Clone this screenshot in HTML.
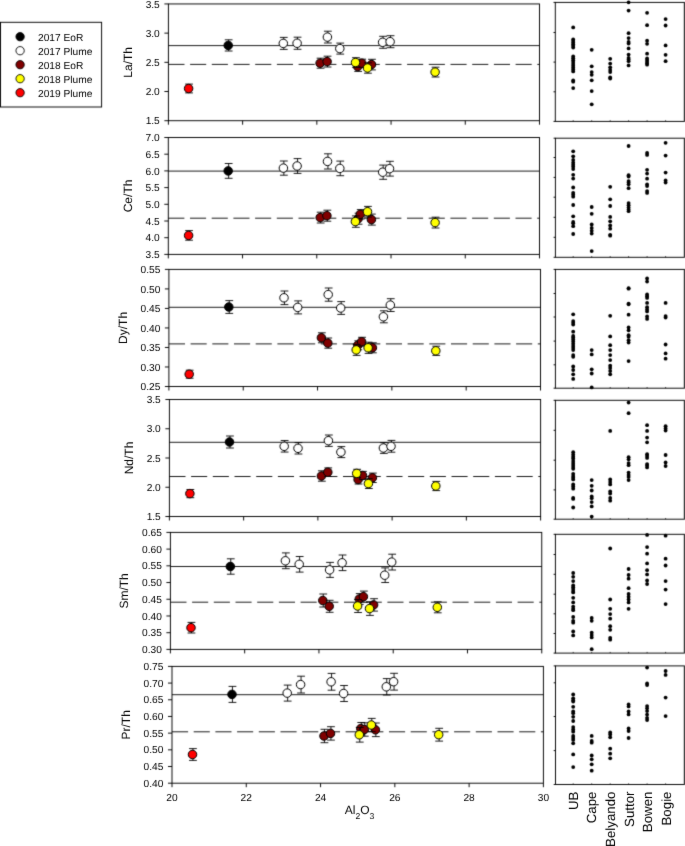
<!DOCTYPE html>
<html><head><meta charset="utf-8"><style>
html,body{margin:0;padding:0;background:#fff;}
svg{display:block;will-change:transform;}
text{font-family:"Liberation Sans",sans-serif;fill:#000;text-rendering:geometricPrecision;}
</style></head><body>
<svg width="685" height="846" viewBox="0 0 685 846">
<defs><filter id="bl" x="0" y="0" width="685" height="846" filterUnits="userSpaceOnUse" color-interpolation-filters="sRGB"><feConvolveMatrix order="3" kernelMatrix="0.0169 0.0962 0.0169 0.0962 0.5476 0.0962 0.0169 0.0962 0.0169" edgeMode="duplicate" preserveAlpha="true"/></filter><filter id="bt" x="0" y="0" width="685" height="846" filterUnits="userSpaceOnUse" color-interpolation-filters="sRGB"><feConvolveMatrix order="3" kernelMatrix="0.0036 0.0528 0.0036 0.0528 0.7744 0.0528 0.0036 0.0528 0.0036" edgeMode="none" preserveAlpha="false"/></filter></defs>
<g filter="url(#bl)">
<rect width="685" height="846" fill="#fff"/>
<line x1="168.4" y1="45.6" x2="539.5" y2="45.6" stroke="#000" stroke-width="0.9"/>
<line x1="168.4" y1="64.4" x2="539.5" y2="64.4" stroke="#000" stroke-width="0.9" stroke-dasharray="16.1 5.6"/>
<rect x="168.4" y="3.95" width="371.1" height="116.75" fill="none" stroke="#000" stroke-width="0.95"/>
<line x1="164.4" y1="120.7" x2="168.4" y2="120.7" stroke="#000" stroke-width="0.95"/>
<line x1="164.4" y1="91.51" x2="168.4" y2="91.51" stroke="#000" stroke-width="0.95"/>
<line x1="164.4" y1="62.33" x2="168.4" y2="62.33" stroke="#000" stroke-width="0.95"/>
<line x1="164.4" y1="33.14" x2="168.4" y2="33.14" stroke="#000" stroke-width="0.95"/>
<line x1="164.4" y1="3.95" x2="168.4" y2="3.95" stroke="#000" stroke-width="0.95"/>
<line x1="168.4" y1="120.7" x2="168.4" y2="124.7" stroke="#000" stroke-width="0.95"/>
<line x1="242.62" y1="120.7" x2="242.62" y2="124.7" stroke="#000" stroke-width="0.95"/>
<line x1="316.84" y1="120.7" x2="316.84" y2="124.7" stroke="#000" stroke-width="0.95"/>
<line x1="391.06" y1="120.7" x2="391.06" y2="124.7" stroke="#000" stroke-width="0.95"/>
<line x1="465.28" y1="120.7" x2="465.28" y2="124.7" stroke="#000" stroke-width="0.95"/>
<line x1="539.5" y1="120.7" x2="539.5" y2="124.7" stroke="#000" stroke-width="0.95"/>
<path d="M228.65 39.8V51M224.75 39.8H232.55M224.75 51H232.55" stroke="#000" stroke-width="0.9" fill="none"/>
<circle cx="228.2" cy="45.4" r="4.25" fill="#000000" stroke="#000" stroke-width="1"/>
<path d="M283.75 37.4V49.4M279.85 37.4H287.65M279.85 49.4H287.65" stroke="#000" stroke-width="0.9" fill="none"/>
<circle cx="283.3" cy="43.4" r="4.25" fill="#ffffff" stroke="#000" stroke-width="1"/>
<path d="M297.55 37.2V49.3M293.65 37.2H301.45M293.65 49.3H301.45" stroke="#000" stroke-width="0.9" fill="none"/>
<circle cx="297.1" cy="43.25" r="4.25" fill="#ffffff" stroke="#000" stroke-width="1"/>
<path d="M327.85 31.2V43M323.95 31.2H331.75M323.95 43H331.75" stroke="#000" stroke-width="0.9" fill="none"/>
<circle cx="327.4" cy="37.1" r="4.25" fill="#ffffff" stroke="#000" stroke-width="1"/>
<path d="M340.25 43.1V54.1M336.35 43.1H344.15M336.35 54.1H344.15" stroke="#000" stroke-width="0.9" fill="none"/>
<circle cx="339.8" cy="48.6" r="4.25" fill="#ffffff" stroke="#000" stroke-width="1"/>
<path d="M383.05 36.3V48.3M379.15 36.3H386.95M379.15 48.3H386.95" stroke="#000" stroke-width="0.9" fill="none"/>
<circle cx="382.6" cy="42.3" r="4.25" fill="#ffffff" stroke="#000" stroke-width="1"/>
<path d="M390.55 35.7V47.7M386.65 35.7H394.45M386.65 47.7H394.45" stroke="#000" stroke-width="0.9" fill="none"/>
<circle cx="390.1" cy="41.7" r="4.25" fill="#ffffff" stroke="#000" stroke-width="1"/>
<path d="M320.55 58.2V68.2M316.65 58.2H324.45M316.65 68.2H324.45" stroke="#000" stroke-width="0.9" fill="none"/>
<circle cx="320.1" cy="63.2" r="4.25" fill="#800000" stroke="#000" stroke-width="1"/>
<path d="M327.55 56.2V67M323.65 56.2H331.45M323.65 67H331.45" stroke="#000" stroke-width="0.9" fill="none"/>
<circle cx="327.1" cy="61.6" r="4.25" fill="#800000" stroke="#000" stroke-width="1"/>
<path d="M358.15 61.8V71.4M354.25 61.8H362.05M354.25 71.4H362.05" stroke="#000" stroke-width="0.9" fill="none"/>
<circle cx="357.7" cy="66.6" r="4.25" fill="#800000" stroke="#000" stroke-width="1"/>
<path d="M362.25 59.2V67.2M358.35 59.2H366.15M358.35 67.2H366.15" stroke="#000" stroke-width="0.9" fill="none"/>
<circle cx="361.8" cy="63.2" r="4.25" fill="#800000" stroke="#000" stroke-width="1"/>
<path d="M371.95 59.3V69.9M368.05 59.3H375.85M368.05 69.9H375.85" stroke="#000" stroke-width="0.9" fill="none"/>
<circle cx="371.5" cy="64.6" r="4.25" fill="#800000" stroke="#000" stroke-width="1"/>
<path d="M355.95 57.7V67.3M352.05 57.7H359.85M352.05 67.3H359.85" stroke="#000" stroke-width="0.9" fill="none"/>
<circle cx="355.5" cy="62.5" r="4.25" fill="#ffff00" stroke="#000" stroke-width="1"/>
<path d="M367.95 62.8V73.2M364.05 62.8H371.85M364.05 73.2H371.85" stroke="#000" stroke-width="0.9" fill="none"/>
<circle cx="367.5" cy="68" r="4.25" fill="#ffff00" stroke="#000" stroke-width="1"/>
<path d="M435.55 67.2V77M431.65 67.2H439.45M431.65 77H439.45" stroke="#000" stroke-width="0.9" fill="none"/>
<circle cx="435.1" cy="72.1" r="4.25" fill="#ffff00" stroke="#000" stroke-width="1"/>
<path d="M189.05 84.1V92.9M185.15 84.1H192.95M185.15 92.9H192.95" stroke="#000" stroke-width="0.9" fill="none"/>
<circle cx="188.6" cy="88.5" r="4.25" fill="#ff0000" stroke="#000" stroke-width="1"/>
<line x1="168.3" y1="171.1" x2="539.5" y2="171.1" stroke="#000" stroke-width="0.9"/>
<line x1="168.3" y1="218.2" x2="539.5" y2="218.2" stroke="#000" stroke-width="0.9" stroke-dasharray="16.1 5.6"/>
<rect x="168.3" y="137.5" width="371.2" height="116.9" fill="none" stroke="#000" stroke-width="0.95"/>
<line x1="164.3" y1="254.4" x2="168.3" y2="254.4" stroke="#000" stroke-width="0.95"/>
<line x1="164.3" y1="237.7" x2="168.3" y2="237.7" stroke="#000" stroke-width="0.95"/>
<line x1="164.3" y1="221" x2="168.3" y2="221" stroke="#000" stroke-width="0.95"/>
<line x1="164.3" y1="204.3" x2="168.3" y2="204.3" stroke="#000" stroke-width="0.95"/>
<line x1="164.3" y1="187.6" x2="168.3" y2="187.6" stroke="#000" stroke-width="0.95"/>
<line x1="164.3" y1="170.9" x2="168.3" y2="170.9" stroke="#000" stroke-width="0.95"/>
<line x1="164.3" y1="154.2" x2="168.3" y2="154.2" stroke="#000" stroke-width="0.95"/>
<line x1="164.3" y1="137.5" x2="168.3" y2="137.5" stroke="#000" stroke-width="0.95"/>
<line x1="168.3" y1="254.4" x2="168.3" y2="258.4" stroke="#000" stroke-width="0.95"/>
<line x1="242.54" y1="254.4" x2="242.54" y2="258.4" stroke="#000" stroke-width="0.95"/>
<line x1="316.78" y1="254.4" x2="316.78" y2="258.4" stroke="#000" stroke-width="0.95"/>
<line x1="391.02" y1="254.4" x2="391.02" y2="258.4" stroke="#000" stroke-width="0.95"/>
<line x1="465.26" y1="254.4" x2="465.26" y2="258.4" stroke="#000" stroke-width="0.95"/>
<line x1="539.5" y1="254.4" x2="539.5" y2="258.4" stroke="#000" stroke-width="0.95"/>
<path d="M228.65 163.5V178.3M224.75 163.5H232.55M224.75 178.3H232.55" stroke="#000" stroke-width="0.9" fill="none"/>
<circle cx="228.2" cy="170.9" r="4.25" fill="#000000" stroke="#000" stroke-width="1"/>
<path d="M283.85 161V175.2M279.95 161H287.75M279.95 175.2H287.75" stroke="#000" stroke-width="0.9" fill="none"/>
<circle cx="283.4" cy="168.1" r="4.25" fill="#ffffff" stroke="#000" stroke-width="1"/>
<path d="M297.55 158.6V173.4M293.65 158.6H301.45M293.65 173.4H301.45" stroke="#000" stroke-width="0.9" fill="none"/>
<circle cx="297.1" cy="166" r="4.25" fill="#ffffff" stroke="#000" stroke-width="1"/>
<path d="M327.95 153.8V169M324.05 153.8H331.85M324.05 169H331.85" stroke="#000" stroke-width="0.9" fill="none"/>
<circle cx="327.5" cy="161.4" r="4.25" fill="#ffffff" stroke="#000" stroke-width="1"/>
<path d="M340.25 161.1V175.7M336.35 161.1H344.15M336.35 175.7H344.15" stroke="#000" stroke-width="0.9" fill="none"/>
<circle cx="339.8" cy="168.4" r="4.25" fill="#ffffff" stroke="#000" stroke-width="1"/>
<path d="M383.15 165.1V179.3M379.25 165.1H387.05M379.25 179.3H387.05" stroke="#000" stroke-width="0.9" fill="none"/>
<circle cx="382.7" cy="172.2" r="4.25" fill="#ffffff" stroke="#000" stroke-width="1"/>
<path d="M389.95 161.3V176.1M386.05 161.3H393.85M386.05 176.1H393.85" stroke="#000" stroke-width="0.9" fill="none"/>
<circle cx="389.5" cy="168.7" r="4.25" fill="#ffffff" stroke="#000" stroke-width="1"/>
<path d="M320.65 212.2V223M316.75 212.2H324.55M316.75 223H324.55" stroke="#000" stroke-width="0.9" fill="none"/>
<circle cx="320.2" cy="217.6" r="4.25" fill="#800000" stroke="#000" stroke-width="1"/>
<path d="M327.35 210.2V221.2M323.45 210.2H331.25M323.45 221.2H331.25" stroke="#000" stroke-width="0.9" fill="none"/>
<circle cx="326.9" cy="215.7" r="4.25" fill="#800000" stroke="#000" stroke-width="1"/>
<path d="M358.55 213.2V224.2M354.65 213.2H362.45M354.65 224.2H362.45" stroke="#000" stroke-width="0.9" fill="none"/>
<circle cx="358.1" cy="218.7" r="4.25" fill="#800000" stroke="#000" stroke-width="1"/>
<path d="M360.75 209.6V219M356.85 209.6H364.65M356.85 219H364.65" stroke="#000" stroke-width="0.9" fill="none"/>
<circle cx="360.3" cy="214.3" r="4.25" fill="#800000" stroke="#000" stroke-width="1"/>
<path d="M371.85 214.1V225.1M367.95 214.1H375.75M367.95 225.1H375.75" stroke="#000" stroke-width="0.9" fill="none"/>
<circle cx="371.4" cy="219.6" r="4.25" fill="#800000" stroke="#000" stroke-width="1"/>
<path d="M355.85 215.9V227.3M351.95 215.9H359.75M351.95 227.3H359.75" stroke="#000" stroke-width="0.9" fill="none"/>
<circle cx="355.4" cy="221.6" r="4.25" fill="#ffff00" stroke="#000" stroke-width="1"/>
<path d="M367.95 206.4V217M364.05 206.4H371.85M364.05 217H371.85" stroke="#000" stroke-width="0.9" fill="none"/>
<circle cx="367.5" cy="211.7" r="4.25" fill="#ffff00" stroke="#000" stroke-width="1"/>
<path d="M435.55 217.2V228M431.65 217.2H439.45M431.65 228H439.45" stroke="#000" stroke-width="0.9" fill="none"/>
<circle cx="435.1" cy="222.6" r="4.25" fill="#ffff00" stroke="#000" stroke-width="1"/>
<path d="M189.05 230.6V240.2M185.15 230.6H192.95M185.15 240.2H192.95" stroke="#000" stroke-width="0.9" fill="none"/>
<circle cx="188.6" cy="235.4" r="4.25" fill="#ff0000" stroke="#000" stroke-width="1"/>
<line x1="168.9" y1="307.3" x2="540.5" y2="307.3" stroke="#000" stroke-width="0.9"/>
<line x1="168.9" y1="343.9" x2="540.5" y2="343.9" stroke="#000" stroke-width="0.9" stroke-dasharray="16.1 5.6"/>
<rect x="168.9" y="269.4" width="371.6" height="117.1" fill="none" stroke="#000" stroke-width="0.95"/>
<line x1="164.9" y1="386.5" x2="168.9" y2="386.5" stroke="#000" stroke-width="0.95"/>
<line x1="164.9" y1="366.98" x2="168.9" y2="366.98" stroke="#000" stroke-width="0.95"/>
<line x1="164.9" y1="347.47" x2="168.9" y2="347.47" stroke="#000" stroke-width="0.95"/>
<line x1="164.9" y1="327.95" x2="168.9" y2="327.95" stroke="#000" stroke-width="0.95"/>
<line x1="164.9" y1="308.43" x2="168.9" y2="308.43" stroke="#000" stroke-width="0.95"/>
<line x1="164.9" y1="288.92" x2="168.9" y2="288.92" stroke="#000" stroke-width="0.95"/>
<line x1="164.9" y1="269.4" x2="168.9" y2="269.4" stroke="#000" stroke-width="0.95"/>
<line x1="168.9" y1="386.5" x2="168.9" y2="390.5" stroke="#000" stroke-width="0.95"/>
<line x1="243.22" y1="386.5" x2="243.22" y2="390.5" stroke="#000" stroke-width="0.95"/>
<line x1="317.54" y1="386.5" x2="317.54" y2="390.5" stroke="#000" stroke-width="0.95"/>
<line x1="391.86" y1="386.5" x2="391.86" y2="390.5" stroke="#000" stroke-width="0.95"/>
<line x1="466.18" y1="386.5" x2="466.18" y2="390.5" stroke="#000" stroke-width="0.95"/>
<line x1="540.5" y1="386.5" x2="540.5" y2="390.5" stroke="#000" stroke-width="0.95"/>
<path d="M229.25 300.6V313.4M225.35 300.6H233.15M225.35 313.4H233.15" stroke="#000" stroke-width="0.9" fill="none"/>
<circle cx="228.8" cy="307" r="4.25" fill="#000000" stroke="#000" stroke-width="1"/>
<path d="M284.45 291V304.6M280.55 291H288.35M280.55 304.6H288.35" stroke="#000" stroke-width="0.9" fill="none"/>
<circle cx="284" cy="297.8" r="4.25" fill="#ffffff" stroke="#000" stroke-width="1"/>
<path d="M298.15 300.9V313.9M294.25 300.9H302.05M294.25 313.9H302.05" stroke="#000" stroke-width="0.9" fill="none"/>
<circle cx="297.7" cy="307.4" r="4.25" fill="#ffffff" stroke="#000" stroke-width="1"/>
<path d="M328.65 288V301.2M324.75 288H332.55M324.75 301.2H332.55" stroke="#000" stroke-width="0.9" fill="none"/>
<circle cx="328.2" cy="294.6" r="4.25" fill="#ffffff" stroke="#000" stroke-width="1"/>
<path d="M341.15 301.6V314.4M337.25 301.6H345.05M337.25 314.4H345.05" stroke="#000" stroke-width="0.9" fill="none"/>
<circle cx="340.7" cy="308" r="4.25" fill="#ffffff" stroke="#000" stroke-width="1"/>
<path d="M383.85 310.8V322.8M379.95 310.8H387.75M379.95 322.8H387.75" stroke="#000" stroke-width="0.9" fill="none"/>
<circle cx="383.4" cy="316.8" r="4.25" fill="#ffffff" stroke="#000" stroke-width="1"/>
<path d="M390.75 298.7V311.5M386.85 298.7H394.65M386.85 311.5H394.65" stroke="#000" stroke-width="0.9" fill="none"/>
<circle cx="390.3" cy="305.1" r="4.25" fill="#ffffff" stroke="#000" stroke-width="1"/>
<path d="M321.85 332.8V342.8M317.95 332.8H325.75M317.95 342.8H325.75" stroke="#000" stroke-width="0.9" fill="none"/>
<circle cx="321.4" cy="337.8" r="4.25" fill="#800000" stroke="#000" stroke-width="1"/>
<path d="M328.25 338V348.2M324.35 338H332.15M324.35 348.2H332.15" stroke="#000" stroke-width="0.9" fill="none"/>
<circle cx="327.8" cy="343.1" r="4.25" fill="#800000" stroke="#000" stroke-width="1"/>
<path d="M358.25 340.8V349.8M354.35 340.8H362.15M354.35 349.8H362.15" stroke="#000" stroke-width="0.9" fill="none"/>
<circle cx="357.8" cy="345.3" r="4.25" fill="#800000" stroke="#000" stroke-width="1"/>
<path d="M362.05 337.3V346.1M358.15 337.3H365.95M358.15 346.1H365.95" stroke="#000" stroke-width="0.9" fill="none"/>
<circle cx="361.6" cy="341.7" r="4.25" fill="#800000" stroke="#000" stroke-width="1"/>
<path d="M372.85 342.8V352.8M368.95 342.8H376.75M368.95 352.8H376.75" stroke="#000" stroke-width="0.9" fill="none"/>
<circle cx="372.4" cy="347.8" r="4.25" fill="#800000" stroke="#000" stroke-width="1"/>
<path d="M356.65 344.4V355.4M352.75 344.4H360.55M352.75 355.4H360.55" stroke="#000" stroke-width="0.9" fill="none"/>
<circle cx="356.2" cy="349.9" r="4.25" fill="#ffff00" stroke="#000" stroke-width="1"/>
<path d="M368.55 342.2V353.4M364.65 342.2H372.45M364.65 353.4H372.45" stroke="#000" stroke-width="0.9" fill="none"/>
<circle cx="368.1" cy="347.8" r="4.25" fill="#ffff00" stroke="#000" stroke-width="1"/>
<path d="M436.25 346.2V355.4M432.35 346.2H440.15M432.35 355.4H440.15" stroke="#000" stroke-width="0.9" fill="none"/>
<circle cx="435.8" cy="350.8" r="4.25" fill="#ffff00" stroke="#000" stroke-width="1"/>
<path d="M189.65 370.2V378.2M185.75 370.2H193.55M185.75 378.2H193.55" stroke="#000" stroke-width="0.9" fill="none"/>
<circle cx="189.2" cy="374.2" r="4.25" fill="#ff0000" stroke="#000" stroke-width="1"/>
<line x1="169.4" y1="442.3" x2="540.6" y2="442.3" stroke="#000" stroke-width="0.9"/>
<line x1="169.4" y1="476.5" x2="540.6" y2="476.5" stroke="#000" stroke-width="0.9" stroke-dasharray="16.1 5.6"/>
<rect x="169.4" y="399.5" width="371.2" height="117" fill="none" stroke="#000" stroke-width="0.95"/>
<line x1="165.4" y1="516.5" x2="169.4" y2="516.5" stroke="#000" stroke-width="0.95"/>
<line x1="165.4" y1="487.25" x2="169.4" y2="487.25" stroke="#000" stroke-width="0.95"/>
<line x1="165.4" y1="458" x2="169.4" y2="458" stroke="#000" stroke-width="0.95"/>
<line x1="165.4" y1="428.75" x2="169.4" y2="428.75" stroke="#000" stroke-width="0.95"/>
<line x1="165.4" y1="399.5" x2="169.4" y2="399.5" stroke="#000" stroke-width="0.95"/>
<line x1="169.4" y1="516.5" x2="169.4" y2="520.5" stroke="#000" stroke-width="0.95"/>
<line x1="243.64" y1="516.5" x2="243.64" y2="520.5" stroke="#000" stroke-width="0.95"/>
<line x1="317.88" y1="516.5" x2="317.88" y2="520.5" stroke="#000" stroke-width="0.95"/>
<line x1="392.12" y1="516.5" x2="392.12" y2="520.5" stroke="#000" stroke-width="0.95"/>
<line x1="466.36" y1="516.5" x2="466.36" y2="520.5" stroke="#000" stroke-width="0.95"/>
<line x1="540.6" y1="516.5" x2="540.6" y2="520.5" stroke="#000" stroke-width="0.95"/>
<path d="M229.95 436V448M226.05 436H233.85M226.05 448H233.85" stroke="#000" stroke-width="0.9" fill="none"/>
<circle cx="229.5" cy="442" r="4.25" fill="#000000" stroke="#000" stroke-width="1"/>
<path d="M284.65 440.55V452.05M280.75 440.55H288.55M280.75 452.05H288.55" stroke="#000" stroke-width="0.9" fill="none"/>
<circle cx="284.2" cy="446.3" r="4.25" fill="#ffffff" stroke="#000" stroke-width="1"/>
<path d="M298.45 442.6V454M294.55 442.6H302.35M294.55 454H302.35" stroke="#000" stroke-width="0.9" fill="none"/>
<circle cx="298" cy="448.3" r="4.25" fill="#ffffff" stroke="#000" stroke-width="1"/>
<path d="M328.85 435V446.4M324.95 435H332.75M324.95 446.4H332.75" stroke="#000" stroke-width="0.9" fill="none"/>
<circle cx="328.4" cy="440.7" r="4.25" fill="#ffffff" stroke="#000" stroke-width="1"/>
<path d="M341.35 446.6V457.6M337.45 446.6H345.25M337.45 457.6H345.25" stroke="#000" stroke-width="0.9" fill="none"/>
<circle cx="340.9" cy="452.1" r="4.25" fill="#ffffff" stroke="#000" stroke-width="1"/>
<path d="M383.85 442.6V453.4M379.95 442.6H387.75M379.95 453.4H387.75" stroke="#000" stroke-width="0.9" fill="none"/>
<circle cx="383.4" cy="448" r="4.25" fill="#ffffff" stroke="#000" stroke-width="1"/>
<path d="M391.45 440.4V452.2M387.55 440.4H395.35M387.55 452.2H395.35" stroke="#000" stroke-width="0.9" fill="none"/>
<circle cx="391" cy="446.3" r="4.25" fill="#ffffff" stroke="#000" stroke-width="1"/>
<path d="M321.85 470.8V481.2M317.95 470.8H325.75M317.95 481.2H325.75" stroke="#000" stroke-width="0.9" fill="none"/>
<circle cx="321.4" cy="476" r="4.25" fill="#800000" stroke="#000" stroke-width="1"/>
<path d="M328.25 467.9V476.5M324.35 467.9H332.15M324.35 476.5H332.15" stroke="#000" stroke-width="0.9" fill="none"/>
<circle cx="327.8" cy="472.2" r="4.25" fill="#800000" stroke="#000" stroke-width="1"/>
<path d="M358.55 475.2V484M354.65 475.2H362.45M354.65 484H362.45" stroke="#000" stroke-width="0.9" fill="none"/>
<circle cx="358.1" cy="479.6" r="4.25" fill="#800000" stroke="#000" stroke-width="1"/>
<path d="M362.95 471.4V479.6M359.05 471.4H366.85M359.05 479.6H366.85" stroke="#000" stroke-width="0.9" fill="none"/>
<circle cx="362.5" cy="475.5" r="4.25" fill="#800000" stroke="#000" stroke-width="1"/>
<path d="M372.85 473.1V482.5M368.95 473.1H376.75M368.95 482.5H376.75" stroke="#000" stroke-width="0.9" fill="none"/>
<circle cx="372.4" cy="477.8" r="4.25" fill="#800000" stroke="#000" stroke-width="1"/>
<path d="M357.15 469.3V477.5M353.25 469.3H361.05M353.25 477.5H361.05" stroke="#000" stroke-width="0.9" fill="none"/>
<circle cx="356.7" cy="473.4" r="4.25" fill="#ffff00" stroke="#000" stroke-width="1"/>
<path d="M368.85 478.7V488.5M364.95 478.7H372.75M364.95 488.5H372.75" stroke="#000" stroke-width="0.9" fill="none"/>
<circle cx="368.4" cy="483.6" r="4.25" fill="#ffff00" stroke="#000" stroke-width="1"/>
<path d="M436.25 481.4V490.6M432.35 481.4H440.15M432.35 490.6H440.15" stroke="#000" stroke-width="0.9" fill="none"/>
<circle cx="435.8" cy="486" r="4.25" fill="#ffff00" stroke="#000" stroke-width="1"/>
<path d="M190.35 489.5V497.7M186.45 489.5H194.25M186.45 497.7H194.25" stroke="#000" stroke-width="0.9" fill="none"/>
<circle cx="189.9" cy="493.6" r="4.25" fill="#ff0000" stroke="#000" stroke-width="1"/>
<line x1="170.4" y1="566.5" x2="541.75" y2="566.5" stroke="#000" stroke-width="0.9"/>
<line x1="170.4" y1="602.2" x2="541.75" y2="602.2" stroke="#000" stroke-width="0.9" stroke-dasharray="16.1 5.6"/>
<rect x="170.4" y="532.4" width="371.35" height="117" fill="none" stroke="#000" stroke-width="0.95"/>
<line x1="166.4" y1="649.4" x2="170.4" y2="649.4" stroke="#000" stroke-width="0.95"/>
<line x1="166.4" y1="632.69" x2="170.4" y2="632.69" stroke="#000" stroke-width="0.95"/>
<line x1="166.4" y1="615.97" x2="170.4" y2="615.97" stroke="#000" stroke-width="0.95"/>
<line x1="166.4" y1="599.26" x2="170.4" y2="599.26" stroke="#000" stroke-width="0.95"/>
<line x1="166.4" y1="582.54" x2="170.4" y2="582.54" stroke="#000" stroke-width="0.95"/>
<line x1="166.4" y1="565.83" x2="170.4" y2="565.83" stroke="#000" stroke-width="0.95"/>
<line x1="166.4" y1="549.11" x2="170.4" y2="549.11" stroke="#000" stroke-width="0.95"/>
<line x1="166.4" y1="532.4" x2="170.4" y2="532.4" stroke="#000" stroke-width="0.95"/>
<line x1="170.4" y1="649.4" x2="170.4" y2="653.4" stroke="#000" stroke-width="0.95"/>
<line x1="244.67" y1="649.4" x2="244.67" y2="653.4" stroke="#000" stroke-width="0.95"/>
<line x1="318.94" y1="649.4" x2="318.94" y2="653.4" stroke="#000" stroke-width="0.95"/>
<line x1="393.21" y1="649.4" x2="393.21" y2="653.4" stroke="#000" stroke-width="0.95"/>
<line x1="467.48" y1="649.4" x2="467.48" y2="653.4" stroke="#000" stroke-width="0.95"/>
<line x1="541.75" y1="649.4" x2="541.75" y2="653.4" stroke="#000" stroke-width="0.95"/>
<path d="M230.75 558.8V574.2M226.85 558.8H234.65M226.85 574.2H234.65" stroke="#000" stroke-width="0.9" fill="none"/>
<circle cx="230.3" cy="566.5" r="4.25" fill="#000000" stroke="#000" stroke-width="1"/>
<path d="M285.85 552.9V568.7M281.95 552.9H289.75M281.95 568.7H289.75" stroke="#000" stroke-width="0.9" fill="none"/>
<circle cx="285.4" cy="560.8" r="4.25" fill="#ffffff" stroke="#000" stroke-width="1"/>
<path d="M299.65 556.5V572.1M295.75 556.5H303.55M295.75 572.1H303.55" stroke="#000" stroke-width="0.9" fill="none"/>
<circle cx="299.2" cy="564.3" r="4.25" fill="#ffffff" stroke="#000" stroke-width="1"/>
<path d="M330.05 562.4V577.4M326.15 562.4H333.95M326.15 577.4H333.95" stroke="#000" stroke-width="0.9" fill="none"/>
<circle cx="329.6" cy="569.9" r="4.25" fill="#ffffff" stroke="#000" stroke-width="1"/>
<path d="M342.55 555V570.6M338.65 555H346.45M338.65 570.6H346.45" stroke="#000" stroke-width="0.9" fill="none"/>
<circle cx="342.1" cy="562.8" r="4.25" fill="#ffffff" stroke="#000" stroke-width="1"/>
<path d="M385.15 567.9V582.5M381.25 567.9H389.05M381.25 582.5H389.05" stroke="#000" stroke-width="0.9" fill="none"/>
<circle cx="384.7" cy="575.2" r="4.25" fill="#ffffff" stroke="#000" stroke-width="1"/>
<path d="M392.15 554.2V570M388.25 554.2H396.05M388.25 570H396.05" stroke="#000" stroke-width="0.9" fill="none"/>
<circle cx="391.7" cy="562.1" r="4.25" fill="#ffffff" stroke="#000" stroke-width="1"/>
<path d="M323.25 594V607M319.35 594H327.15M319.35 607H327.15" stroke="#000" stroke-width="0.9" fill="none"/>
<circle cx="322.8" cy="600.5" r="4.25" fill="#800000" stroke="#000" stroke-width="1"/>
<path d="M329.65 600.3V612.3M325.75 600.3H333.55M325.75 612.3H333.55" stroke="#000" stroke-width="0.9" fill="none"/>
<circle cx="329.2" cy="606.3" r="4.25" fill="#800000" stroke="#000" stroke-width="1"/>
<path d="M359.75 593.6V604.4M355.85 593.6H363.65M355.85 604.4H363.65" stroke="#000" stroke-width="0.9" fill="none"/>
<circle cx="359.3" cy="599" r="4.25" fill="#800000" stroke="#000" stroke-width="1"/>
<path d="M363.85 591.1V602.3M359.95 591.1H367.75M359.95 602.3H367.75" stroke="#000" stroke-width="0.9" fill="none"/>
<circle cx="363.4" cy="596.7" r="4.25" fill="#800000" stroke="#000" stroke-width="1"/>
<path d="M374.05 598.7V611.1M370.15 598.7H377.95M370.15 611.1H377.95" stroke="#000" stroke-width="0.9" fill="none"/>
<circle cx="373.6" cy="604.9" r="4.25" fill="#800000" stroke="#000" stroke-width="1"/>
<path d="M358.05 599.5V612.5M354.15 599.5H361.95M354.15 612.5H361.95" stroke="#000" stroke-width="0.9" fill="none"/>
<circle cx="357.6" cy="606" r="4.25" fill="#ffff00" stroke="#000" stroke-width="1"/>
<path d="M369.95 601.8V615.4M366.05 601.8H373.85M366.05 615.4H373.85" stroke="#000" stroke-width="0.9" fill="none"/>
<circle cx="369.5" cy="608.6" r="4.25" fill="#ffff00" stroke="#000" stroke-width="1"/>
<path d="M437.75 601.8V612.8M433.85 601.8H441.65M433.85 612.8H441.65" stroke="#000" stroke-width="0.9" fill="none"/>
<circle cx="437.3" cy="607.3" r="4.25" fill="#ffff00" stroke="#000" stroke-width="1"/>
<path d="M191.45 622.4V633M187.55 622.4H195.35M187.55 633H195.35" stroke="#000" stroke-width="0.9" fill="none"/>
<circle cx="191" cy="627.7" r="4.25" fill="#ff0000" stroke="#000" stroke-width="1"/>
<line x1="172" y1="694.7" x2="543.4" y2="694.7" stroke="#000" stroke-width="0.9"/>
<line x1="172" y1="731.8" x2="543.4" y2="731.8" stroke="#000" stroke-width="0.9" stroke-dasharray="16.1 5.6"/>
<rect x="172" y="666.4" width="371.4" height="116.8" fill="none" stroke="#000" stroke-width="0.95"/>
<line x1="168" y1="783.2" x2="172" y2="783.2" stroke="#000" stroke-width="0.95"/>
<line x1="168" y1="766.51" x2="172" y2="766.51" stroke="#000" stroke-width="0.95"/>
<line x1="168" y1="749.83" x2="172" y2="749.83" stroke="#000" stroke-width="0.95"/>
<line x1="168" y1="733.14" x2="172" y2="733.14" stroke="#000" stroke-width="0.95"/>
<line x1="168" y1="716.46" x2="172" y2="716.46" stroke="#000" stroke-width="0.95"/>
<line x1="168" y1="699.77" x2="172" y2="699.77" stroke="#000" stroke-width="0.95"/>
<line x1="168" y1="683.09" x2="172" y2="683.09" stroke="#000" stroke-width="0.95"/>
<line x1="168" y1="666.4" x2="172" y2="666.4" stroke="#000" stroke-width="0.95"/>
<line x1="172" y1="783.2" x2="172" y2="787.2" stroke="#000" stroke-width="0.95"/>
<line x1="246.28" y1="783.2" x2="246.28" y2="787.2" stroke="#000" stroke-width="0.95"/>
<line x1="320.56" y1="783.2" x2="320.56" y2="787.2" stroke="#000" stroke-width="0.95"/>
<line x1="394.84" y1="783.2" x2="394.84" y2="787.2" stroke="#000" stroke-width="0.95"/>
<line x1="469.12" y1="783.2" x2="469.12" y2="787.2" stroke="#000" stroke-width="0.95"/>
<line x1="543.4" y1="783.2" x2="543.4" y2="787.2" stroke="#000" stroke-width="0.95"/>
<path d="M232.45 686.4V702.4M228.55 686.4H236.35M228.55 702.4H236.35" stroke="#000" stroke-width="0.9" fill="none"/>
<circle cx="232" cy="694.4" r="4.25" fill="#000000" stroke="#000" stroke-width="1"/>
<path d="M287.65 685.1V701.1M283.75 685.1H291.55M283.75 701.1H291.55" stroke="#000" stroke-width="0.9" fill="none"/>
<circle cx="287.2" cy="693.1" r="4.25" fill="#ffffff" stroke="#000" stroke-width="1"/>
<path d="M301.05 676.2V693M297.15 676.2H304.95M297.15 693H304.95" stroke="#000" stroke-width="0.9" fill="none"/>
<circle cx="300.6" cy="684.6" r="4.25" fill="#ffffff" stroke="#000" stroke-width="1"/>
<path d="M331.55 673.4V690.2M327.65 673.4H335.45M327.65 690.2H335.45" stroke="#000" stroke-width="0.9" fill="none"/>
<circle cx="331.1" cy="681.8" r="4.25" fill="#ffffff" stroke="#000" stroke-width="1"/>
<path d="M344.05 685.5V701.5M340.15 685.5H347.95M340.15 701.5H347.95" stroke="#000" stroke-width="0.9" fill="none"/>
<circle cx="343.6" cy="693.5" r="4.25" fill="#ffffff" stroke="#000" stroke-width="1"/>
<path d="M386.75 678.6V695M382.85 678.6H390.65M382.85 695H390.65" stroke="#000" stroke-width="0.9" fill="none"/>
<circle cx="386.3" cy="686.8" r="4.25" fill="#ffffff" stroke="#000" stroke-width="1"/>
<path d="M394.05 673.3V690.1M390.15 673.3H397.95M390.15 690.1H397.95" stroke="#000" stroke-width="0.9" fill="none"/>
<circle cx="393.6" cy="681.7" r="4.25" fill="#ffffff" stroke="#000" stroke-width="1"/>
<path d="M324.45 729.3V742.7M320.55 729.3H328.35M320.55 742.7H328.35" stroke="#000" stroke-width="0.9" fill="none"/>
<circle cx="324" cy="736" r="4.25" fill="#800000" stroke="#000" stroke-width="1"/>
<path d="M330.95 726.7V740.1M327.05 726.7H334.85M327.05 740.1H334.85" stroke="#000" stroke-width="0.9" fill="none"/>
<circle cx="330.5" cy="733.4" r="4.25" fill="#800000" stroke="#000" stroke-width="1"/>
<path d="M361.25 722.5V734.7M357.35 722.5H365.15M357.35 734.7H365.15" stroke="#000" stroke-width="0.9" fill="none"/>
<circle cx="360.8" cy="728.6" r="4.25" fill="#800000" stroke="#000" stroke-width="1"/>
<path d="M364.75 722.8V736.2M360.85 722.8H368.65M360.85 736.2H368.65" stroke="#000" stroke-width="0.9" fill="none"/>
<circle cx="364.3" cy="729.5" r="4.25" fill="#800000" stroke="#000" stroke-width="1"/>
<path d="M375.85 723V736.6M371.95 723H379.75M371.95 736.6H379.75" stroke="#000" stroke-width="0.9" fill="none"/>
<circle cx="375.4" cy="729.8" r="4.25" fill="#800000" stroke="#000" stroke-width="1"/>
<path d="M359.75 727.5V742.1M355.85 727.5H363.65M355.85 742.1H363.65" stroke="#000" stroke-width="0.9" fill="none"/>
<circle cx="359.3" cy="734.8" r="4.25" fill="#ffff00" stroke="#000" stroke-width="1"/>
<path d="M371.75 718.4V731.6M367.85 718.4H375.65M367.85 731.6H375.65" stroke="#000" stroke-width="0.9" fill="none"/>
<circle cx="371.3" cy="725" r="4.25" fill="#ffff00" stroke="#000" stroke-width="1"/>
<path d="M439.15 728.3V741.1M435.25 728.3H443.05M435.25 741.1H443.05" stroke="#000" stroke-width="0.9" fill="none"/>
<circle cx="438.7" cy="734.7" r="4.25" fill="#ffff00" stroke="#000" stroke-width="1"/>
<path d="M192.95 748.6V760.4M189.05 748.6H196.85M189.05 760.4H196.85" stroke="#000" stroke-width="0.9" fill="none"/>
<circle cx="192.5" cy="754.5" r="4.25" fill="#ff0000" stroke="#000" stroke-width="1"/>
<rect x="0.5" y="22.3" width="101.1" height="84.7" fill="#fff" stroke="#000" stroke-width="0.95"/>
<circle cx="20.1" cy="36.7" r="4.15" fill="#000000" stroke="#000" stroke-width="0.9"/>
<circle cx="20.1" cy="50.7" r="4.15" fill="#ffffff" stroke="#000" stroke-width="0.9"/>
<circle cx="20.1" cy="64.7" r="4.15" fill="#800000" stroke="#000" stroke-width="0.9"/>
<circle cx="20.1" cy="78.7" r="4.15" fill="#ffff00" stroke="#000" stroke-width="0.9"/>
<circle cx="20.1" cy="92.7" r="4.15" fill="#ff0000" stroke="#000" stroke-width="0.9"/>
<rect x="555.3" y="2.4" width="129" height="119" fill="none" stroke="#000" stroke-width="0.95"/>
<line x1="553.5" y1="2.4" x2="555.3" y2="2.4" stroke="#000" stroke-width="0.95"/>
<line x1="553.5" y1="32.5" x2="555.3" y2="32.5" stroke="#000" stroke-width="0.95"/>
<line x1="553.5" y1="62.1" x2="555.3" y2="62.1" stroke="#000" stroke-width="0.95"/>
<line x1="553.5" y1="91.8" x2="555.3" y2="91.8" stroke="#000" stroke-width="0.95"/>
<line x1="553.5" y1="121.4" x2="555.3" y2="121.4" stroke="#000" stroke-width="0.95"/>
<line x1="573.2" y1="121.4" x2="573.2" y2="120.2" stroke="#000" stroke-width="0.7"/>
<line x1="591.7" y1="121.4" x2="591.7" y2="120.2" stroke="#000" stroke-width="0.7"/>
<line x1="610.2" y1="121.4" x2="610.2" y2="120.2" stroke="#000" stroke-width="0.7"/>
<line x1="628.6" y1="121.4" x2="628.6" y2="120.2" stroke="#000" stroke-width="0.7"/>
<line x1="647.1" y1="121.4" x2="647.1" y2="120.2" stroke="#000" stroke-width="0.7"/>
<line x1="665.6" y1="121.4" x2="665.6" y2="120.2" stroke="#000" stroke-width="0.7"/>
<circle cx="573.2" cy="27.4" r="1.9" fill="#000"/>
<circle cx="573.2" cy="39.4" r="1.9" fill="#000"/>
<circle cx="573.2" cy="41" r="1.9" fill="#000"/>
<circle cx="573.2" cy="42.6" r="1.9" fill="#000"/>
<circle cx="573.2" cy="44.2" r="1.9" fill="#000"/>
<circle cx="573.2" cy="45.8" r="1.9" fill="#000"/>
<circle cx="573.2" cy="47.5" r="1.9" fill="#000"/>
<circle cx="573.2" cy="56.4" r="1.9" fill="#000"/>
<circle cx="573.2" cy="58.3" r="1.9" fill="#000"/>
<circle cx="573.2" cy="60.2" r="1.9" fill="#000"/>
<circle cx="573.2" cy="62.1" r="1.9" fill="#000"/>
<circle cx="573.2" cy="64" r="1.9" fill="#000"/>
<circle cx="573.2" cy="65.8" r="1.9" fill="#000"/>
<circle cx="573.2" cy="67.6" r="1.9" fill="#000"/>
<circle cx="573.2" cy="69.4" r="1.9" fill="#000"/>
<circle cx="573.2" cy="71.4" r="1.9" fill="#000"/>
<circle cx="573.2" cy="80.5" r="1.9" fill="#000"/>
<circle cx="573.2" cy="81.7" r="1.9" fill="#000"/>
<circle cx="573.2" cy="88.1" r="1.9" fill="#000"/>
<circle cx="591.7" cy="49.8" r="1.9" fill="#000"/>
<circle cx="591.7" cy="66.3" r="1.9" fill="#000"/>
<circle cx="591.7" cy="72.1" r="1.9" fill="#000"/>
<circle cx="591.7" cy="74.8" r="1.9" fill="#000"/>
<circle cx="591.7" cy="80.3" r="1.9" fill="#000"/>
<circle cx="591.7" cy="91.1" r="1.9" fill="#000"/>
<circle cx="591.7" cy="104.3" r="1.9" fill="#000"/>
<circle cx="610.2" cy="58.8" r="1.9" fill="#000"/>
<circle cx="610.2" cy="63.6" r="1.9" fill="#000"/>
<circle cx="610.2" cy="67.3" r="1.9" fill="#000"/>
<circle cx="610.2" cy="70" r="1.9" fill="#000"/>
<circle cx="610.2" cy="72.1" r="1.9" fill="#000"/>
<circle cx="610.2" cy="77.5" r="1.9" fill="#000"/>
<circle cx="610.2" cy="78.5" r="1.9" fill="#000"/>
<circle cx="628.6" cy="2.3" r="1.9" fill="#000"/>
<circle cx="628.6" cy="10.6" r="1.9" fill="#000"/>
<circle cx="628.6" cy="33.2" r="1.9" fill="#000"/>
<circle cx="628.6" cy="38.1" r="1.9" fill="#000"/>
<circle cx="628.6" cy="42" r="1.9" fill="#000"/>
<circle cx="628.6" cy="43.6" r="1.9" fill="#000"/>
<circle cx="628.6" cy="48.4" r="1.9" fill="#000"/>
<circle cx="628.6" cy="54.6" r="1.9" fill="#000"/>
<circle cx="628.6" cy="58" r="1.9" fill="#000"/>
<circle cx="628.6" cy="59.6" r="1.9" fill="#000"/>
<circle cx="628.6" cy="61.2" r="1.9" fill="#000"/>
<circle cx="628.6" cy="65.4" r="1.9" fill="#000"/>
<circle cx="647.1" cy="12.8" r="1.9" fill="#000"/>
<circle cx="647.1" cy="25.2" r="1.9" fill="#000"/>
<circle cx="647.1" cy="40.7" r="1.9" fill="#000"/>
<circle cx="647.1" cy="43.8" r="1.9" fill="#000"/>
<circle cx="647.1" cy="53.7" r="1.9" fill="#000"/>
<circle cx="647.1" cy="58.5" r="1.9" fill="#000"/>
<circle cx="647.1" cy="60.1" r="1.9" fill="#000"/>
<circle cx="647.1" cy="61.7" r="1.9" fill="#000"/>
<circle cx="647.1" cy="63.3" r="1.9" fill="#000"/>
<circle cx="647.1" cy="64.7" r="1.9" fill="#000"/>
<circle cx="665.6" cy="19.1" r="1.9" fill="#000"/>
<circle cx="665.6" cy="25.5" r="1.9" fill="#000"/>
<circle cx="665.6" cy="45.4" r="1.9" fill="#000"/>
<circle cx="665.6" cy="54.8" r="1.9" fill="#000"/>
<circle cx="665.6" cy="61.2" r="1.9" fill="#000"/>
<rect x="555.4" y="138.2" width="128.9" height="119.1" fill="none" stroke="#000" stroke-width="0.95"/>
<line x1="553.6" y1="138.2" x2="555.4" y2="138.2" stroke="#000" stroke-width="0.95"/>
<line x1="553.6" y1="157.5" x2="555.4" y2="157.5" stroke="#000" stroke-width="0.95"/>
<line x1="553.6" y1="177.4" x2="555.4" y2="177.4" stroke="#000" stroke-width="0.95"/>
<line x1="553.6" y1="197.2" x2="555.4" y2="197.2" stroke="#000" stroke-width="0.95"/>
<line x1="553.6" y1="217.3" x2="555.4" y2="217.3" stroke="#000" stroke-width="0.95"/>
<line x1="553.6" y1="237.3" x2="555.4" y2="237.3" stroke="#000" stroke-width="0.95"/>
<line x1="553.6" y1="257.3" x2="555.4" y2="257.3" stroke="#000" stroke-width="0.95"/>
<line x1="573.2" y1="257.3" x2="573.2" y2="256.1" stroke="#000" stroke-width="0.7"/>
<line x1="591.7" y1="257.3" x2="591.7" y2="256.1" stroke="#000" stroke-width="0.7"/>
<line x1="610.2" y1="257.3" x2="610.2" y2="256.1" stroke="#000" stroke-width="0.7"/>
<line x1="628.6" y1="257.3" x2="628.6" y2="256.1" stroke="#000" stroke-width="0.7"/>
<line x1="647.1" y1="257.3" x2="647.1" y2="256.1" stroke="#000" stroke-width="0.7"/>
<line x1="665.6" y1="257.3" x2="665.6" y2="256.1" stroke="#000" stroke-width="0.7"/>
<circle cx="573.2" cy="151.3" r="1.9" fill="#000"/>
<circle cx="573.2" cy="156.3" r="1.9" fill="#000"/>
<circle cx="573.2" cy="159.9" r="1.9" fill="#000"/>
<circle cx="573.2" cy="162.7" r="1.9" fill="#000"/>
<circle cx="573.2" cy="164.8" r="1.9" fill="#000"/>
<circle cx="573.2" cy="166.7" r="1.9" fill="#000"/>
<circle cx="573.2" cy="169.1" r="1.9" fill="#000"/>
<circle cx="573.2" cy="174.8" r="1.9" fill="#000"/>
<circle cx="573.2" cy="178.6" r="1.9" fill="#000"/>
<circle cx="573.2" cy="187.5" r="1.9" fill="#000"/>
<circle cx="573.2" cy="192.8" r="1.9" fill="#000"/>
<circle cx="573.2" cy="194.6" r="1.9" fill="#000"/>
<circle cx="573.2" cy="196.7" r="1.9" fill="#000"/>
<circle cx="573.2" cy="205" r="1.9" fill="#000"/>
<circle cx="573.2" cy="216.3" r="1.9" fill="#000"/>
<circle cx="573.2" cy="222" r="1.9" fill="#000"/>
<circle cx="573.2" cy="223.3" r="1.9" fill="#000"/>
<circle cx="573.2" cy="226.2" r="1.9" fill="#000"/>
<circle cx="573.2" cy="234" r="1.9" fill="#000"/>
<circle cx="591.7" cy="207" r="1.9" fill="#000"/>
<circle cx="591.7" cy="213.8" r="1.9" fill="#000"/>
<circle cx="591.7" cy="224.4" r="1.9" fill="#000"/>
<circle cx="591.7" cy="228" r="1.9" fill="#000"/>
<circle cx="591.7" cy="230.8" r="1.9" fill="#000"/>
<circle cx="591.7" cy="233.6" r="1.9" fill="#000"/>
<circle cx="591.7" cy="251.1" r="1.9" fill="#000"/>
<circle cx="610.2" cy="186.8" r="1.9" fill="#000"/>
<circle cx="610.2" cy="199.3" r="1.9" fill="#000"/>
<circle cx="610.2" cy="206" r="1.9" fill="#000"/>
<circle cx="610.2" cy="216.9" r="1.9" fill="#000"/>
<circle cx="610.2" cy="221.3" r="1.9" fill="#000"/>
<circle cx="610.2" cy="225.5" r="1.9" fill="#000"/>
<circle cx="610.2" cy="228.7" r="1.9" fill="#000"/>
<circle cx="610.2" cy="234.8" r="1.9" fill="#000"/>
<circle cx="610.2" cy="235.7" r="1.9" fill="#000"/>
<circle cx="628.6" cy="146" r="1.9" fill="#000"/>
<circle cx="628.6" cy="175.2" r="1.9" fill="#000"/>
<circle cx="628.6" cy="176.6" r="1.9" fill="#000"/>
<circle cx="628.6" cy="181.1" r="1.9" fill="#000"/>
<circle cx="628.6" cy="182.6" r="1.9" fill="#000"/>
<circle cx="628.6" cy="184.3" r="1.9" fill="#000"/>
<circle cx="628.6" cy="188.2" r="1.9" fill="#000"/>
<circle cx="628.6" cy="203.1" r="1.9" fill="#000"/>
<circle cx="628.6" cy="205.2" r="1.9" fill="#000"/>
<circle cx="628.6" cy="207.4" r="1.9" fill="#000"/>
<circle cx="628.6" cy="209.5" r="1.9" fill="#000"/>
<circle cx="628.6" cy="211.2" r="1.9" fill="#000"/>
<circle cx="647.1" cy="153" r="1.9" fill="#000"/>
<circle cx="647.1" cy="154.9" r="1.9" fill="#000"/>
<circle cx="647.1" cy="169.8" r="1.9" fill="#000"/>
<circle cx="647.1" cy="173.6" r="1.9" fill="#000"/>
<circle cx="647.1" cy="178.7" r="1.9" fill="#000"/>
<circle cx="647.1" cy="184.3" r="1.9" fill="#000"/>
<circle cx="647.1" cy="186.1" r="1.9" fill="#000"/>
<circle cx="647.1" cy="191.1" r="1.9" fill="#000"/>
<circle cx="647.1" cy="192.9" r="1.9" fill="#000"/>
<circle cx="665.6" cy="142.8" r="1.9" fill="#000"/>
<circle cx="665.6" cy="155.6" r="1.9" fill="#000"/>
<circle cx="665.6" cy="172.6" r="1.9" fill="#000"/>
<circle cx="665.6" cy="180.4" r="1.9" fill="#000"/>
<circle cx="665.6" cy="182.6" r="1.9" fill="#000"/>
<rect x="555.4" y="269.4" width="128.9" height="118.8" fill="none" stroke="#000" stroke-width="0.95"/>
<line x1="553.6" y1="269.4" x2="555.4" y2="269.4" stroke="#000" stroke-width="0.95"/>
<line x1="553.6" y1="293.5" x2="555.4" y2="293.5" stroke="#000" stroke-width="0.95"/>
<line x1="553.6" y1="317" x2="555.4" y2="317" stroke="#000" stroke-width="0.95"/>
<line x1="553.6" y1="341.1" x2="555.4" y2="341.1" stroke="#000" stroke-width="0.95"/>
<line x1="553.6" y1="364.8" x2="555.4" y2="364.8" stroke="#000" stroke-width="0.95"/>
<line x1="553.6" y1="388.2" x2="555.4" y2="388.2" stroke="#000" stroke-width="0.95"/>
<line x1="573.2" y1="388.2" x2="573.2" y2="387" stroke="#000" stroke-width="0.7"/>
<line x1="591.7" y1="388.2" x2="591.7" y2="387" stroke="#000" stroke-width="0.7"/>
<line x1="610.2" y1="388.2" x2="610.2" y2="387" stroke="#000" stroke-width="0.7"/>
<line x1="628.6" y1="388.2" x2="628.6" y2="387" stroke="#000" stroke-width="0.7"/>
<line x1="647.1" y1="388.2" x2="647.1" y2="387" stroke="#000" stroke-width="0.7"/>
<line x1="665.6" y1="388.2" x2="665.6" y2="387" stroke="#000" stroke-width="0.7"/>
<circle cx="573.2" cy="314.3" r="1.9" fill="#000"/>
<circle cx="573.2" cy="321.1" r="1.9" fill="#000"/>
<circle cx="573.2" cy="322.8" r="1.9" fill="#000"/>
<circle cx="573.2" cy="324.6" r="1.9" fill="#000"/>
<circle cx="573.2" cy="331.7" r="1.9" fill="#000"/>
<circle cx="573.2" cy="336" r="1.9" fill="#000"/>
<circle cx="573.2" cy="337.4" r="1.9" fill="#000"/>
<circle cx="573.2" cy="339.5" r="1.9" fill="#000"/>
<circle cx="573.2" cy="341.6" r="1.9" fill="#000"/>
<circle cx="573.2" cy="343.8" r="1.9" fill="#000"/>
<circle cx="573.2" cy="345.9" r="1.9" fill="#000"/>
<circle cx="573.2" cy="348" r="1.9" fill="#000"/>
<circle cx="573.2" cy="350.1" r="1.9" fill="#000"/>
<circle cx="573.2" cy="355.1" r="1.9" fill="#000"/>
<circle cx="573.2" cy="356.8" r="1.9" fill="#000"/>
<circle cx="573.2" cy="366.5" r="1.9" fill="#000"/>
<circle cx="573.2" cy="370" r="1.9" fill="#000"/>
<circle cx="573.2" cy="374.3" r="1.9" fill="#000"/>
<circle cx="573.2" cy="378.9" r="1.9" fill="#000"/>
<circle cx="591.7" cy="350.1" r="1.9" fill="#000"/>
<circle cx="591.7" cy="354.4" r="1.9" fill="#000"/>
<circle cx="591.7" cy="369.3" r="1.9" fill="#000"/>
<circle cx="591.7" cy="373.5" r="1.9" fill="#000"/>
<circle cx="591.7" cy="387.4" r="1.9" fill="#000"/>
<circle cx="610.2" cy="315.8" r="1.9" fill="#000"/>
<circle cx="610.2" cy="336.4" r="1.9" fill="#000"/>
<circle cx="610.2" cy="345.2" r="1.9" fill="#000"/>
<circle cx="610.2" cy="350.1" r="1.9" fill="#000"/>
<circle cx="610.2" cy="355.1" r="1.9" fill="#000"/>
<circle cx="610.2" cy="360.1" r="1.9" fill="#000"/>
<circle cx="610.2" cy="365.7" r="1.9" fill="#000"/>
<circle cx="610.2" cy="367.9" r="1.9" fill="#000"/>
<circle cx="610.2" cy="371" r="1.9" fill="#000"/>
<circle cx="610.2" cy="374.3" r="1.9" fill="#000"/>
<circle cx="628.6" cy="288.2" r="1.9" fill="#000"/>
<circle cx="628.6" cy="288.7" r="1.9" fill="#000"/>
<circle cx="628.6" cy="303.6" r="1.9" fill="#000"/>
<circle cx="628.6" cy="304.3" r="1.9" fill="#000"/>
<circle cx="628.6" cy="314.7" r="1.9" fill="#000"/>
<circle cx="628.6" cy="327.4" r="1.9" fill="#000"/>
<circle cx="628.6" cy="330.3" r="1.9" fill="#000"/>
<circle cx="628.6" cy="335.2" r="1.9" fill="#000"/>
<circle cx="628.6" cy="336.7" r="1.9" fill="#000"/>
<circle cx="628.6" cy="340.2" r="1.9" fill="#000"/>
<circle cx="628.6" cy="342.6" r="1.9" fill="#000"/>
<circle cx="628.6" cy="361.1" r="1.9" fill="#000"/>
<circle cx="647.1" cy="278.5" r="1.9" fill="#000"/>
<circle cx="647.1" cy="281.6" r="1.9" fill="#000"/>
<circle cx="647.1" cy="294.4" r="1.9" fill="#000"/>
<circle cx="647.1" cy="296.2" r="1.9" fill="#000"/>
<circle cx="647.1" cy="297.9" r="1.9" fill="#000"/>
<circle cx="647.1" cy="302.9" r="1.9" fill="#000"/>
<circle cx="647.1" cy="307.2" r="1.9" fill="#000"/>
<circle cx="647.1" cy="309.4" r="1.9" fill="#000"/>
<circle cx="647.1" cy="311.4" r="1.9" fill="#000"/>
<circle cx="647.1" cy="316.5" r="1.9" fill="#000"/>
<circle cx="647.1" cy="318.9" r="1.9" fill="#000"/>
<circle cx="665.6" cy="302.9" r="1.9" fill="#000"/>
<circle cx="665.6" cy="316.1" r="1.9" fill="#000"/>
<circle cx="665.6" cy="317.5" r="1.9" fill="#000"/>
<circle cx="665.6" cy="344.5" r="1.9" fill="#000"/>
<circle cx="665.6" cy="353.4" r="1.9" fill="#000"/>
<circle cx="665.6" cy="358.7" r="1.9" fill="#000"/>
<rect x="555.4" y="400.3" width="128.9" height="118.9" fill="none" stroke="#000" stroke-width="0.95"/>
<line x1="553.6" y1="400.3" x2="555.4" y2="400.3" stroke="#000" stroke-width="0.95"/>
<line x1="553.6" y1="430.3" x2="555.4" y2="430.3" stroke="#000" stroke-width="0.95"/>
<line x1="553.6" y1="460.2" x2="555.4" y2="460.2" stroke="#000" stroke-width="0.95"/>
<line x1="553.6" y1="489.9" x2="555.4" y2="489.9" stroke="#000" stroke-width="0.95"/>
<line x1="553.6" y1="519.2" x2="555.4" y2="519.2" stroke="#000" stroke-width="0.95"/>
<line x1="573.2" y1="519.2" x2="573.2" y2="518" stroke="#000" stroke-width="0.7"/>
<line x1="591.7" y1="519.2" x2="591.7" y2="518" stroke="#000" stroke-width="0.7"/>
<line x1="610.2" y1="519.2" x2="610.2" y2="518" stroke="#000" stroke-width="0.7"/>
<line x1="628.6" y1="519.2" x2="628.6" y2="518" stroke="#000" stroke-width="0.7"/>
<line x1="647.1" y1="519.2" x2="647.1" y2="518" stroke="#000" stroke-width="0.7"/>
<line x1="665.6" y1="519.2" x2="665.6" y2="518" stroke="#000" stroke-width="0.7"/>
<circle cx="573.2" cy="452.2" r="1.9" fill="#000"/>
<circle cx="573.2" cy="454.6" r="1.9" fill="#000"/>
<circle cx="573.2" cy="456.7" r="1.9" fill="#000"/>
<circle cx="573.2" cy="458.4" r="1.9" fill="#000"/>
<circle cx="573.2" cy="461" r="1.9" fill="#000"/>
<circle cx="573.2" cy="463.1" r="1.9" fill="#000"/>
<circle cx="573.2" cy="465" r="1.9" fill="#000"/>
<circle cx="573.2" cy="467" r="1.9" fill="#000"/>
<circle cx="573.2" cy="468.8" r="1.9" fill="#000"/>
<circle cx="573.2" cy="473.8" r="1.9" fill="#000"/>
<circle cx="573.2" cy="475.9" r="1.9" fill="#000"/>
<circle cx="573.2" cy="477.7" r="1.9" fill="#000"/>
<circle cx="573.2" cy="479.4" r="1.9" fill="#000"/>
<circle cx="573.2" cy="484.4" r="1.9" fill="#000"/>
<circle cx="573.2" cy="486.5" r="1.9" fill="#000"/>
<circle cx="573.2" cy="488.7" r="1.9" fill="#000"/>
<circle cx="573.2" cy="497.9" r="1.9" fill="#000"/>
<circle cx="573.2" cy="498.9" r="1.9" fill="#000"/>
<circle cx="573.2" cy="507.5" r="1.9" fill="#000"/>
<circle cx="591.7" cy="480.1" r="1.9" fill="#000"/>
<circle cx="591.7" cy="485.8" r="1.9" fill="#000"/>
<circle cx="591.7" cy="490.5" r="1.9" fill="#000"/>
<circle cx="591.7" cy="496.5" r="1.9" fill="#000"/>
<circle cx="591.7" cy="498.2" r="1.9" fill="#000"/>
<circle cx="591.7" cy="502.1" r="1.9" fill="#000"/>
<circle cx="591.7" cy="506.4" r="1.9" fill="#000"/>
<circle cx="591.7" cy="516.6" r="1.9" fill="#000"/>
<circle cx="610.2" cy="430.9" r="1.9" fill="#000"/>
<circle cx="610.2" cy="479.4" r="1.9" fill="#000"/>
<circle cx="610.2" cy="482" r="1.9" fill="#000"/>
<circle cx="610.2" cy="484.4" r="1.9" fill="#000"/>
<circle cx="610.2" cy="491.5" r="1.9" fill="#000"/>
<circle cx="610.2" cy="493.6" r="1.9" fill="#000"/>
<circle cx="610.2" cy="497.9" r="1.9" fill="#000"/>
<circle cx="610.2" cy="500.7" r="1.9" fill="#000"/>
<circle cx="628.6" cy="402.6" r="1.9" fill="#000"/>
<circle cx="628.6" cy="413.2" r="1.9" fill="#000"/>
<circle cx="628.6" cy="457.2" r="1.9" fill="#000"/>
<circle cx="628.6" cy="459.3" r="1.9" fill="#000"/>
<circle cx="628.6" cy="463.1" r="1.9" fill="#000"/>
<circle cx="628.6" cy="465.2" r="1.9" fill="#000"/>
<circle cx="628.6" cy="472.6" r="1.9" fill="#000"/>
<circle cx="628.6" cy="474.9" r="1.9" fill="#000"/>
<circle cx="628.6" cy="476.9" r="1.9" fill="#000"/>
<circle cx="628.6" cy="480.1" r="1.9" fill="#000"/>
<circle cx="647.1" cy="425.2" r="1.9" fill="#000"/>
<circle cx="647.1" cy="430.9" r="1.9" fill="#000"/>
<circle cx="647.1" cy="437.6" r="1.9" fill="#000"/>
<circle cx="647.1" cy="442.3" r="1.9" fill="#000"/>
<circle cx="647.1" cy="454.2" r="1.9" fill="#000"/>
<circle cx="647.1" cy="456" r="1.9" fill="#000"/>
<circle cx="647.1" cy="457.9" r="1.9" fill="#000"/>
<circle cx="647.1" cy="464.1" r="1.9" fill="#000"/>
<circle cx="647.1" cy="465.5" r="1.9" fill="#000"/>
<circle cx="647.1" cy="467.4" r="1.9" fill="#000"/>
<circle cx="665.6" cy="426.2" r="1.9" fill="#000"/>
<circle cx="665.6" cy="428.4" r="1.9" fill="#000"/>
<circle cx="665.6" cy="430.5" r="1.9" fill="#000"/>
<circle cx="665.6" cy="455" r="1.9" fill="#000"/>
<circle cx="665.6" cy="462.4" r="1.9" fill="#000"/>
<circle cx="665.6" cy="466" r="1.9" fill="#000"/>
<rect x="555.4" y="534.3" width="128.9" height="118.8" fill="none" stroke="#000" stroke-width="0.95"/>
<line x1="553.6" y1="534.3" x2="555.4" y2="534.3" stroke="#000" stroke-width="0.95"/>
<line x1="553.6" y1="554.5" x2="555.4" y2="554.5" stroke="#000" stroke-width="0.95"/>
<line x1="553.6" y1="574.3" x2="555.4" y2="574.3" stroke="#000" stroke-width="0.95"/>
<line x1="553.6" y1="594.2" x2="555.4" y2="594.2" stroke="#000" stroke-width="0.95"/>
<line x1="553.6" y1="613.8" x2="555.4" y2="613.8" stroke="#000" stroke-width="0.95"/>
<line x1="553.6" y1="633.5" x2="555.4" y2="633.5" stroke="#000" stroke-width="0.95"/>
<line x1="553.6" y1="653.1" x2="555.4" y2="653.1" stroke="#000" stroke-width="0.95"/>
<line x1="573.2" y1="653.1" x2="573.2" y2="651.9" stroke="#000" stroke-width="0.7"/>
<line x1="591.7" y1="653.1" x2="591.7" y2="651.9" stroke="#000" stroke-width="0.7"/>
<line x1="610.2" y1="653.1" x2="610.2" y2="651.9" stroke="#000" stroke-width="0.7"/>
<line x1="628.6" y1="653.1" x2="628.6" y2="651.9" stroke="#000" stroke-width="0.7"/>
<line x1="647.1" y1="653.1" x2="647.1" y2="651.9" stroke="#000" stroke-width="0.7"/>
<line x1="665.6" y1="653.1" x2="665.6" y2="651.9" stroke="#000" stroke-width="0.7"/>
<circle cx="573.2" cy="573" r="1.9" fill="#000"/>
<circle cx="573.2" cy="576.8" r="1.9" fill="#000"/>
<circle cx="573.2" cy="581.1" r="1.9" fill="#000"/>
<circle cx="573.2" cy="585.4" r="1.9" fill="#000"/>
<circle cx="573.2" cy="587.2" r="1.9" fill="#000"/>
<circle cx="573.2" cy="588.9" r="1.9" fill="#000"/>
<circle cx="573.2" cy="591" r="1.9" fill="#000"/>
<circle cx="573.2" cy="592.4" r="1.9" fill="#000"/>
<circle cx="573.2" cy="597.8" r="1.9" fill="#000"/>
<circle cx="573.2" cy="602.4" r="1.9" fill="#000"/>
<circle cx="573.2" cy="606.6" r="1.9" fill="#000"/>
<circle cx="573.2" cy="608.8" r="1.9" fill="#000"/>
<circle cx="573.2" cy="610.2" r="1.9" fill="#000"/>
<circle cx="573.2" cy="617" r="1.9" fill="#000"/>
<circle cx="573.2" cy="620.8" r="1.9" fill="#000"/>
<circle cx="573.2" cy="622.7" r="1.9" fill="#000"/>
<circle cx="573.2" cy="631.5" r="1.9" fill="#000"/>
<circle cx="573.2" cy="635.4" r="1.9" fill="#000"/>
<circle cx="591.7" cy="618" r="1.9" fill="#000"/>
<circle cx="591.7" cy="620.8" r="1.9" fill="#000"/>
<circle cx="591.7" cy="632.6" r="1.9" fill="#000"/>
<circle cx="591.7" cy="635" r="1.9" fill="#000"/>
<circle cx="591.7" cy="637.4" r="1.9" fill="#000"/>
<circle cx="591.7" cy="649.2" r="1.9" fill="#000"/>
<circle cx="610.2" cy="548.5" r="1.9" fill="#000"/>
<circle cx="610.2" cy="599.5" r="1.9" fill="#000"/>
<circle cx="610.2" cy="608.8" r="1.9" fill="#000"/>
<circle cx="610.2" cy="614.1" r="1.9" fill="#000"/>
<circle cx="610.2" cy="618.7" r="1.9" fill="#000"/>
<circle cx="610.2" cy="626.2" r="1.9" fill="#000"/>
<circle cx="610.2" cy="629.8" r="1.9" fill="#000"/>
<circle cx="610.2" cy="637.8" r="1.9" fill="#000"/>
<circle cx="610.2" cy="639.7" r="1.9" fill="#000"/>
<circle cx="628.6" cy="569" r="1.9" fill="#000"/>
<circle cx="628.6" cy="575" r="1.9" fill="#000"/>
<circle cx="628.6" cy="578.7" r="1.9" fill="#000"/>
<circle cx="628.6" cy="588.2" r="1.9" fill="#000"/>
<circle cx="628.6" cy="593.9" r="1.9" fill="#000"/>
<circle cx="628.6" cy="596.7" r="1.9" fill="#000"/>
<circle cx="628.6" cy="599.5" r="1.9" fill="#000"/>
<circle cx="628.6" cy="602.4" r="1.9" fill="#000"/>
<circle cx="628.6" cy="608.8" r="1.9" fill="#000"/>
<circle cx="647.1" cy="534.9" r="1.9" fill="#000"/>
<circle cx="647.1" cy="547.1" r="1.9" fill="#000"/>
<circle cx="647.1" cy="553.7" r="1.9" fill="#000"/>
<circle cx="647.1" cy="563.4" r="1.9" fill="#000"/>
<circle cx="647.1" cy="570.2" r="1.9" fill="#000"/>
<circle cx="647.1" cy="574.4" r="1.9" fill="#000"/>
<circle cx="647.1" cy="580.4" r="1.9" fill="#000"/>
<circle cx="647.1" cy="584" r="1.9" fill="#000"/>
<circle cx="665.6" cy="535.7" r="1.9" fill="#000"/>
<circle cx="665.6" cy="558.7" r="1.9" fill="#000"/>
<circle cx="665.6" cy="565.5" r="1.9" fill="#000"/>
<circle cx="665.6" cy="581.1" r="1.9" fill="#000"/>
<circle cx="665.6" cy="589.6" r="1.9" fill="#000"/>
<circle cx="665.6" cy="604.1" r="1.9" fill="#000"/>
<rect x="555.5" y="665.9" width="128.8" height="118.6" fill="none" stroke="#000" stroke-width="0.95"/>
<line x1="553.7" y1="665.9" x2="555.5" y2="665.9" stroke="#000" stroke-width="0.95"/>
<line x1="553.7" y1="682.8" x2="555.5" y2="682.8" stroke="#000" stroke-width="0.95"/>
<line x1="553.7" y1="716.5" x2="555.5" y2="716.5" stroke="#000" stroke-width="0.95"/>
<line x1="553.7" y1="750.6" x2="555.5" y2="750.6" stroke="#000" stroke-width="0.95"/>
<line x1="553.7" y1="784.5" x2="555.5" y2="784.5" stroke="#000" stroke-width="0.95"/>
<line x1="573.2" y1="784.5" x2="573.2" y2="783.3" stroke="#000" stroke-width="0.7"/>
<line x1="591.7" y1="784.5" x2="591.7" y2="783.3" stroke="#000" stroke-width="0.7"/>
<line x1="610.2" y1="784.5" x2="610.2" y2="783.3" stroke="#000" stroke-width="0.7"/>
<line x1="628.6" y1="784.5" x2="628.6" y2="783.3" stroke="#000" stroke-width="0.7"/>
<line x1="647.1" y1="784.5" x2="647.1" y2="783.3" stroke="#000" stroke-width="0.7"/>
<line x1="665.6" y1="784.5" x2="665.6" y2="783.3" stroke="#000" stroke-width="0.7"/>
<circle cx="573.2" cy="694.5" r="1.9" fill="#000"/>
<circle cx="573.2" cy="698.3" r="1.9" fill="#000"/>
<circle cx="573.2" cy="700.2" r="1.9" fill="#000"/>
<circle cx="573.2" cy="701.6" r="1.9" fill="#000"/>
<circle cx="573.2" cy="706.8" r="1.9" fill="#000"/>
<circle cx="573.2" cy="711.5" r="1.9" fill="#000"/>
<circle cx="573.2" cy="713.2" r="1.9" fill="#000"/>
<circle cx="573.2" cy="716.8" r="1.9" fill="#000"/>
<circle cx="573.2" cy="721" r="1.9" fill="#000"/>
<circle cx="573.2" cy="727.1" r="1.9" fill="#000"/>
<circle cx="573.2" cy="729.5" r="1.9" fill="#000"/>
<circle cx="573.2" cy="731.7" r="1.9" fill="#000"/>
<circle cx="573.2" cy="735.9" r="1.9" fill="#000"/>
<circle cx="573.2" cy="738" r="1.9" fill="#000"/>
<circle cx="573.2" cy="739.9" r="1.9" fill="#000"/>
<circle cx="573.2" cy="743.3" r="1.9" fill="#000"/>
<circle cx="573.2" cy="754.4" r="1.9" fill="#000"/>
<circle cx="573.2" cy="767.1" r="1.9" fill="#000"/>
<circle cx="591.7" cy="735.9" r="1.9" fill="#000"/>
<circle cx="591.7" cy="740.9" r="1.9" fill="#000"/>
<circle cx="591.7" cy="742.7" r="1.9" fill="#000"/>
<circle cx="591.7" cy="755.5" r="1.9" fill="#000"/>
<circle cx="591.7" cy="759.3" r="1.9" fill="#000"/>
<circle cx="591.7" cy="764.3" r="1.9" fill="#000"/>
<circle cx="591.7" cy="770.7" r="1.9" fill="#000"/>
<circle cx="610.2" cy="732.4" r="1.9" fill="#000"/>
<circle cx="610.2" cy="734.5" r="1.9" fill="#000"/>
<circle cx="610.2" cy="737.3" r="1.9" fill="#000"/>
<circle cx="610.2" cy="748.7" r="1.9" fill="#000"/>
<circle cx="610.2" cy="753.7" r="1.9" fill="#000"/>
<circle cx="610.2" cy="758.3" r="1.9" fill="#000"/>
<circle cx="628.6" cy="704.4" r="1.9" fill="#000"/>
<circle cx="628.6" cy="706.4" r="1.9" fill="#000"/>
<circle cx="628.6" cy="711.5" r="1.9" fill="#000"/>
<circle cx="628.6" cy="714.4" r="1.9" fill="#000"/>
<circle cx="628.6" cy="728.5" r="1.9" fill="#000"/>
<circle cx="628.6" cy="731" r="1.9" fill="#000"/>
<circle cx="628.6" cy="738" r="1.9" fill="#000"/>
<circle cx="647.1" cy="667.6" r="1.9" fill="#000"/>
<circle cx="647.1" cy="683.4" r="1.9" fill="#000"/>
<circle cx="647.1" cy="685.1" r="1.9" fill="#000"/>
<circle cx="647.1" cy="706.1" r="1.9" fill="#000"/>
<circle cx="647.1" cy="708.3" r="1.9" fill="#000"/>
<circle cx="647.1" cy="711.1" r="1.9" fill="#000"/>
<circle cx="647.1" cy="714.6" r="1.9" fill="#000"/>
<circle cx="647.1" cy="717.8" r="1.9" fill="#000"/>
<circle cx="647.1" cy="720" r="1.9" fill="#000"/>
<circle cx="665.6" cy="671" r="1.9" fill="#000"/>
<circle cx="665.6" cy="674.9" r="1.9" fill="#000"/>
<circle cx="665.6" cy="697.6" r="1.9" fill="#000"/>
<circle cx="665.6" cy="716.1" r="1.9" fill="#000"/>
</g>
<g filter="url(#bt)">
<text x="159.8" y="124.3" font-size="10.2" text-anchor="end">1.5</text>
<text x="159.8" y="95.11" font-size="10.2" text-anchor="end">2.0</text>
<text x="159.8" y="65.92" font-size="10.2" text-anchor="end">2.5</text>
<text x="159.8" y="36.74" font-size="10.2" text-anchor="end">3.0</text>
<text x="159.8" y="7.55" font-size="10.2" text-anchor="end">3.5</text>
<text transform="translate(131.6 62.33) rotate(-90)" font-size="12" text-anchor="middle">La/Th</text>
<text x="159.7" y="258" font-size="10.2" text-anchor="end">3.5</text>
<text x="159.7" y="241.3" font-size="10.2" text-anchor="end">4.0</text>
<text x="159.7" y="224.6" font-size="10.2" text-anchor="end">4.5</text>
<text x="159.7" y="207.9" font-size="10.2" text-anchor="end">5.0</text>
<text x="159.7" y="191.2" font-size="10.2" text-anchor="end">5.5</text>
<text x="159.7" y="174.5" font-size="10.2" text-anchor="end">6.0</text>
<text x="159.7" y="157.8" font-size="10.2" text-anchor="end">6.5</text>
<text x="159.7" y="141.1" font-size="10.2" text-anchor="end">7.0</text>
<text transform="translate(132.0 195.95) rotate(-90)" font-size="12" text-anchor="middle">Ce/Th</text>
<text x="160.3" y="390.1" font-size="10.2" text-anchor="end">0.25</text>
<text x="160.3" y="370.58" font-size="10.2" text-anchor="end">0.30</text>
<text x="160.3" y="351.07" font-size="10.2" text-anchor="end">0.35</text>
<text x="160.3" y="331.55" font-size="10.2" text-anchor="end">0.40</text>
<text x="160.3" y="312.03" font-size="10.2" text-anchor="end">0.45</text>
<text x="160.3" y="292.52" font-size="10.2" text-anchor="end">0.50</text>
<text x="160.3" y="273" font-size="10.2" text-anchor="end">0.55</text>
<text transform="translate(127.0 327.95) rotate(-90)" font-size="12" text-anchor="middle">Dy/Th</text>
<text x="160.8" y="520.1" font-size="10.2" text-anchor="end">1.5</text>
<text x="160.8" y="490.85" font-size="10.2" text-anchor="end">2.0</text>
<text x="160.8" y="461.6" font-size="10.2" text-anchor="end">2.5</text>
<text x="160.8" y="432.35" font-size="10.2" text-anchor="end">3.0</text>
<text x="160.8" y="403.1" font-size="10.2" text-anchor="end">3.5</text>
<text transform="translate(132.5 458) rotate(-90)" font-size="12" text-anchor="middle">Nd/Th</text>
<text x="161.8" y="653" font-size="10.2" text-anchor="end">0.30</text>
<text x="161.8" y="636.29" font-size="10.2" text-anchor="end">0.35</text>
<text x="161.8" y="619.57" font-size="10.2" text-anchor="end">0.40</text>
<text x="161.8" y="602.86" font-size="10.2" text-anchor="end">0.45</text>
<text x="161.8" y="586.14" font-size="10.2" text-anchor="end">0.50</text>
<text x="161.8" y="569.43" font-size="10.2" text-anchor="end">0.55</text>
<text x="161.8" y="552.71" font-size="10.2" text-anchor="end">0.60</text>
<text x="161.8" y="536" font-size="10.2" text-anchor="end">0.65</text>
<text transform="translate(128.2 590.9) rotate(-90)" font-size="12" text-anchor="middle">Sm/Th</text>
<text x="163.4" y="786.8" font-size="10.2" text-anchor="end">0.40</text>
<text x="163.4" y="770.11" font-size="10.2" text-anchor="end">0.45</text>
<text x="163.4" y="753.43" font-size="10.2" text-anchor="end">0.50</text>
<text x="163.4" y="736.74" font-size="10.2" text-anchor="end">0.55</text>
<text x="163.4" y="720.06" font-size="10.2" text-anchor="end">0.60</text>
<text x="163.4" y="703.37" font-size="10.2" text-anchor="end">0.65</text>
<text x="163.4" y="686.69" font-size="10.2" text-anchor="end">0.70</text>
<text x="163.4" y="670" font-size="10.2" text-anchor="end">0.75</text>
<text x="172" y="801" font-size="10.2" text-anchor="middle">20</text>
<text x="246.28" y="801" font-size="10.2" text-anchor="middle">22</text>
<text x="320.56" y="801" font-size="10.2" text-anchor="middle">24</text>
<text x="394.84" y="801" font-size="10.2" text-anchor="middle">26</text>
<text x="469.12" y="801" font-size="10.2" text-anchor="middle">28</text>
<text x="543.4" y="801" font-size="10.2" text-anchor="middle">30</text>
<text transform="translate(130.0 724.8) rotate(-90)" font-size="12" text-anchor="middle">Pr/Th</text>
<text x="344.8" y="814" font-size="12">Al<tspan font-size="8.6" dy="4.7">2</tspan><tspan dy="-4.7">O</tspan><tspan font-size="8.6" dy="4.7">3</tspan></text>
<text x="38" y="40.8" font-size="10.2">2017 EoR</text>
<text x="38" y="54.8" font-size="10.2">2017 Plume</text>
<text x="38" y="68.8" font-size="10.2">2018 EoR</text>
<text x="38" y="82.8" font-size="10.2">2018 Plume</text>
<text x="38" y="96.8" font-size="10.2">2019 Plume</text>
<text transform="translate(578.1 791.5) rotate(-90)" font-size="13.3" text-anchor="end">UB</text>
<text transform="translate(595.7 791.5) rotate(-90)" font-size="13.3" text-anchor="end">Cape</text>
<text transform="translate(614.7 791.5) rotate(-90)" font-size="13.3" text-anchor="end">Belyando</text>
<text transform="translate(633.5 791.5) rotate(-90)" font-size="13.3" text-anchor="end">Suttor</text>
<text transform="translate(652 791.5) rotate(-90)" font-size="13.3" text-anchor="end">Bowen</text>
<text transform="translate(670.5 791.5) rotate(-90)" font-size="13.3" text-anchor="end">Bogie</text>
</g>
</svg>
</body></html>
